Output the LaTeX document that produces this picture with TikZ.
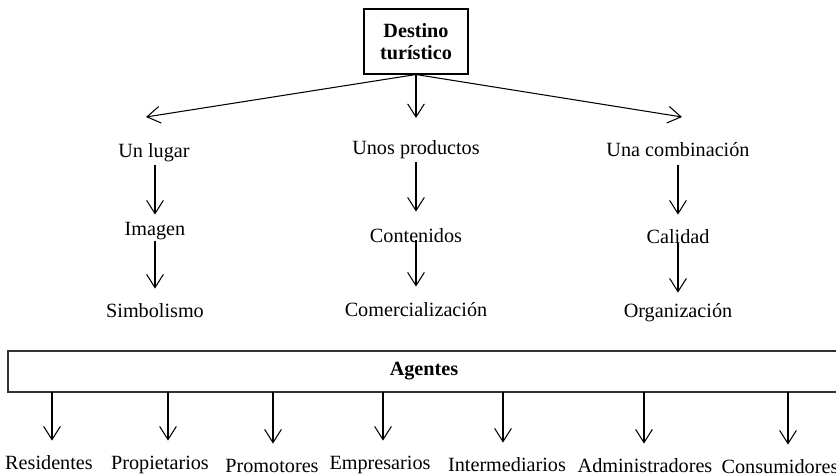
\documentclass[tikz,border=0pt]{standalone}
\usepackage{fontspec}
\setmainfont{Liberation Serif}
\usepackage{tikz}
\usetikzlibrary{arrows.meta,positioning}
\tikzstyle{topbox} = [rectangle, draw, line width=0.6pt, align=center,
    font=\fontsize{11.5}{12.5}\selectfont\bfseries, minimum width=2.08cm, minimum height=1.3cm]
\tikzstyle{agentbox} = [rectangle, draw=black!80, line width=0.7pt,
    font=\fontsize{11.5}{12.5}\selectfont\bfseries, minimum width=16.64cm, minimum height=0.82cm]
\tikzstyle{lab} = [inner sep=0pt, anchor=base, text height=8pt, text depth=2.5pt,
    font=\fontsize{11.5}{12.5}\selectfont]
\tikzstyle{arr} = [-{Straight Barb[length=7.5pt,width=9.5pt]}, line width=0.6pt]

\begin{document}
\begin{tikzpicture}[x=0.02cm, y=-0.02cm]
        \useasboundingbox (0,0) rectangle (836,476);

        \node[topbox] (destino) at (416,41.5) {Destino\\turístico};

        % three branches
        \node[lab] (lugar) at (154,158) {Un lugar};
        \node[lab] (imagen) at (155,236) {Imagen};
        \node[lab] (simbol) at (155,318) {Simbolismo};

        \node[lab] (prod) at (416,155) {Unos productos};
        \node[lab] (conten) at (416,243) {Contenidos};
        \node[lab] (comerc) at (416,317) {Comercialización};

        \node[lab] (combin) at (678,157) {Una combinación};
        \node[lab] (calidad) at (678,244) {Calidad};
        \node[lab] (organiz) at (678,318) {Organización};

        \coordinate (tlugar) at (146,117);
        \coordinate (tprod) at (416,118);
        \coordinate (tcombin) at (682,117);
        \draw[arr] (destino.south) -- (tlugar);
        \draw[arr] (destino.south) -- (tprod);
        \draw[arr] (destino.south) -- (tcombin);

        \draw[arr, shorten <=0.05cm, shorten >=0.14cm] (lugar.south -| imagen) -- (imagen);
        \draw[arr, shorten >=0.3cm] (imagen) -- (simbol);
        \draw[arr, shorten <=0.05cm, shorten >=0.34cm] (prod) -- (conten);
        \draw[arr, shorten <=-0.15cm, shorten >=0.32cm] (conten) -- (comerc);
        \draw[arr, shorten <=0.07cm, shorten >=0.3cm] (combin) -- (calidad);
        \draw[arr, shorten <=-0.11cm, shorten >=0.22cm] (calidad) -- (organiz);

        % agents
        \node[agentbox] (agentes) at (424,371.5) {Agentes};

        \node[lab] (resid) at (49,470) {Residentes};
        \node[lab] (propiet) at (160,470) {Propietarios};
        \node[lab] (promot) at (272,473) {Promotores};
        \node[lab] (empres) at (380,470) {Empresarios};
        \node[lab] (interm) at (507,472) {Intermediarios};
        \node[lab] (admin) at (645,473) {Administradores};
        \node[lab] (consum) at (780,474) {Consumidores};

        \coordinate (a1) at (52,392);
        \coordinate (a2) at (168,392);
        \coordinate (a3) at (273,392);
        \coordinate (a4) at (383,392);
        \coordinate (a5) at (503,392);
        \coordinate (a6) at (644,392);
        \coordinate (a7) at (788,392);
        \draw[arr, shorten >=0.3cm] (a1) -- (a1 |- resid.north);
        \draw[arr, shorten >=0.3cm] (a2) -- (a2 |- propiet.north);
        \draw[arr, shorten >=0.3cm] (a3) -- (a3 |- promot.north);
        \draw[arr, shorten >=0.3cm] (a4) -- (a4 |- empres.north);
        \draw[arr, shorten >=0.3cm] (a5) -- (a5 |- interm.north);
        \draw[arr, shorten >=0.3cm] (a6) -- (a6 |- admin.north);
        \draw[arr, shorten >=0.3cm] (a7) -- (a7 |- consum.north);
\end{tikzpicture}
\end{document}
